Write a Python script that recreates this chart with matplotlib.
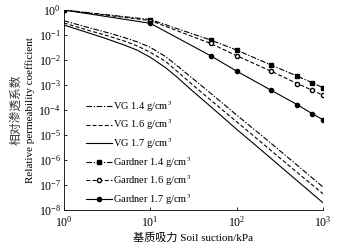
import matplotlib
matplotlib.use("Agg")
import matplotlib.pyplot as plt

plt.rcParams["font.family"] = ["Liberation Serif", "Noto Sans CJK SC"]
plt.rcParams["mathtext.fontset"] = "stix"

# van Genuchten model curves (suction kPa -> relative permeability)
vg_suction = [1, 2, 3, 5, 7, 10, 15, 20, 30, 50, 100, 200, 500, 1000]
vg_14 = [0.372, 0.191, 0.132, 0.0794, 0.0537, 0.0324, 0.0138, 6.3e-3, 2.0e-3,
         4.7e-4, 6.3e-5, 8.9e-6, 6.3e-7, 8.3e-8]
vg_16 = [0.302, 0.148, 0.100, 0.0575, 0.0372, 0.0204, 8.9e-3, 3.8e-3, 1.12e-3,
         2.5e-4, 3.4e-5, 4.6e-6, 3.2e-7, 4.5e-8]
vg_17 = [0.251, 0.117, 0.0741, 0.0398, 0.0251, 0.0129, 5.0e-3, 2.2e-3, 6.3e-4,
         1.38e-4, 1.7e-5, 2.24e-6, 1.5e-7, 1.95e-8]

# Gardner model points
gd_suction = [1, 10, 50, 100, 250, 500, 750, 1000]
gd_14 = [1.0, 0.417, 0.063, 0.025, 6.3e-3, 2.3e-3, 1.23e-3, 7.8e-4]
gd_16 = [1.0, 0.38, 0.046, 0.0148, 3.6e-3, 1.15e-3, 6.2e-4, 3.9e-4]
gd_17 = [1.0, 0.295, 0.0148, 3.6e-3, 6.2e-4, 1.66e-4, 7.1e-5, 4.1e-5]

fig = plt.figure(figsize=(3.47, 2.44), dpi=100)
ax = fig.add_axes([0.184, 0.139, 0.747, 0.820])

lw = 0.8
dashdot = (0, (5, 1.5, 1.2, 1.5))
dashed = (0, (3.5, 2))

ax.plot(vg_suction, vg_14, color="black", lw=lw, linestyle=dashdot,
        label="VG 1.4 g/cm$^3$")
ax.plot(vg_suction, vg_16, color="black", lw=lw, linestyle=dashed,
        label="VG 1.6 g/cm$^3$")
ax.plot(vg_suction, vg_17, color="black", lw=lw, linestyle="-",
        label="VG 1.7 g/cm$^3$")
ax.plot(gd_suction, gd_14, color="black", lw=lw, linestyle=dashdot,
        marker="s", markersize=2.8, label="Gardner 1.4 g/cm$^3$")
ax.plot(gd_suction, gd_16, color="black", lw=lw, linestyle=dashed,
        marker="o", markersize=3, markerfacecolor="white",
        label="Gardner 1.6 g/cm$^3$")
ax.plot(gd_suction, gd_17, color="black", lw=lw, linestyle="-",
        marker="o", markersize=3, label="Gardner 1.7 g/cm$^3$")

ax.set_xscale("log")
ax.set_yscale("log")
ax.set_xlim(1, 1000)
ax.set_ylim(1e-8, 1)
ax.set_xticks([1, 10, 100, 1000])
ax.set_yticks([10.0 ** -k for k in range(0, 9)])
ax.minorticks_off()
ax.tick_params(direction="in", length=2.5, width=0.6, labelsize=8.5, pad=2)
ax.tick_params(axis="x", pad=3.5)
for side in ("top", "right"):
    ax.spines[side].set_visible(False)
for side in ("left", "bottom"):
    ax.spines[side].set_linewidth(0.6)

ax.set_xlabel("基质吸力 Soil suction/kPa", fontsize=8, labelpad=2,
              family=["Liberation Serif", "Noto Sans CJK SC"])
fig.text(0.045, 0.55, "相对渗透系数", rotation=90, ha="center", va="center",
         fontsize=8.5, family=["Noto Sans CJK SC"], color="#333333")
fig.text(0.088, 0.55, "Relative permeability coefficient", rotation=90,
         ha="center", va="center", fontsize=8)

ax.legend(loc="upper left", bbox_to_anchor=(0.085, 0.555), frameon=False,
          fontsize=7.5, handlelength=2.5, handletextpad=0.15,
          labelspacing=0.35, borderpad=0, borderaxespad=0)

fig.savefig("out.png", dpi=100)
